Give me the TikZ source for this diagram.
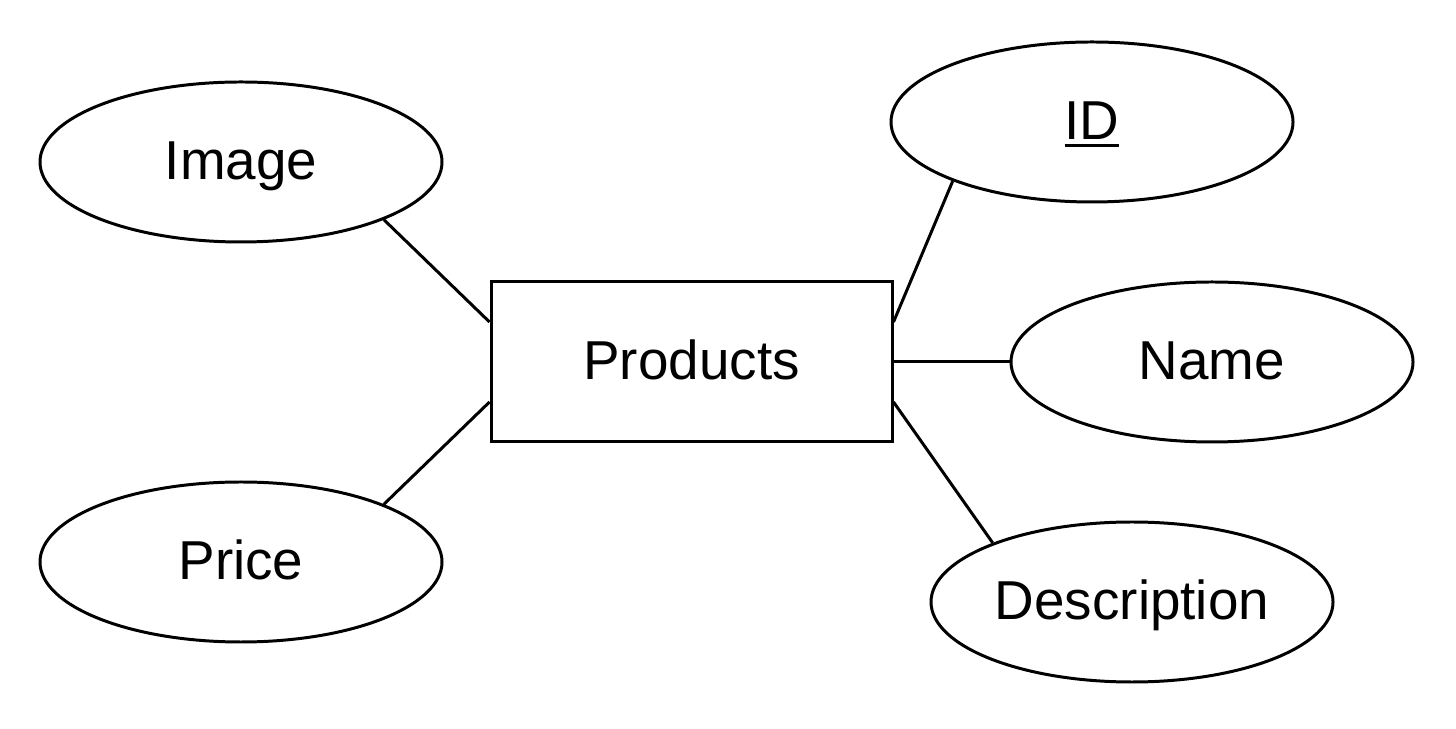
\documentclass[tikz,border=0pt]{standalone}
\usepackage{fontspec}
\setmainfont{Liberation Sans}
\usepackage{tikz}
\usetikzlibrary{shapes.geometric, positioning}

\newcommand{\khoachinh}[1]{\setbox0\hbox{#1}\rlap{\rule[-2pt]{\wd0}{0.85pt}}\box0}

\tikzset{
    thucthe/.style={draw, line width=0.85pt, rectangle, minimum width=4.01cm, minimum height=1.6cm, inner sep=0pt, text height=0.48cm, text depth=0.12cm},
    thuoctinh/.style={draw, line width=0.85pt, ellipse, minimum width=4.02cm, minimum height=1.6cm, inner sep=0pt, text height=0.48cm, text depth=0.12cm},
    noi/.style={line width=0.85pt}
}

\begin{document}
\begin{tikzpicture}[font=\fontsize{15.6}{18}\selectfont]
        \useasboundingbox (0,0) rectangle (14.56,7.28);
        % Vẽ thực thể
        \node[thucthe] (products) at (6.915,3.66) {Products};

        % Vẽ thuộc tính
        \node[thuoctinh] (image) at (2.41,5.66) {Image};
        \node[thuoctinh] (price) at (2.41,1.66) {Price};
        \node[thuoctinh] (id) at (10.92,6.06) {\khoachinh{ID}};
        \node[thuoctinh] (name) at (12.12,3.66) {Name};
        \node[thuoctinh] (desc) at (11.32,1.26) {Description};

        % Vẽ đường nối
        \draw[noi] (image.-22.6) -- ([yshift=4mm]products.west);
        \draw[noi] (price.22.6) -- ([yshift=-4mm]products.west);
        \draw[noi] (id.-157) -- ([yshift=4mm]products.east);
        \draw[noi] (products.east) -- (name.west);
        \draw[noi] (desc.157) -- ([yshift=-4mm]products.east);
    \end{tikzpicture}
\end{document}
